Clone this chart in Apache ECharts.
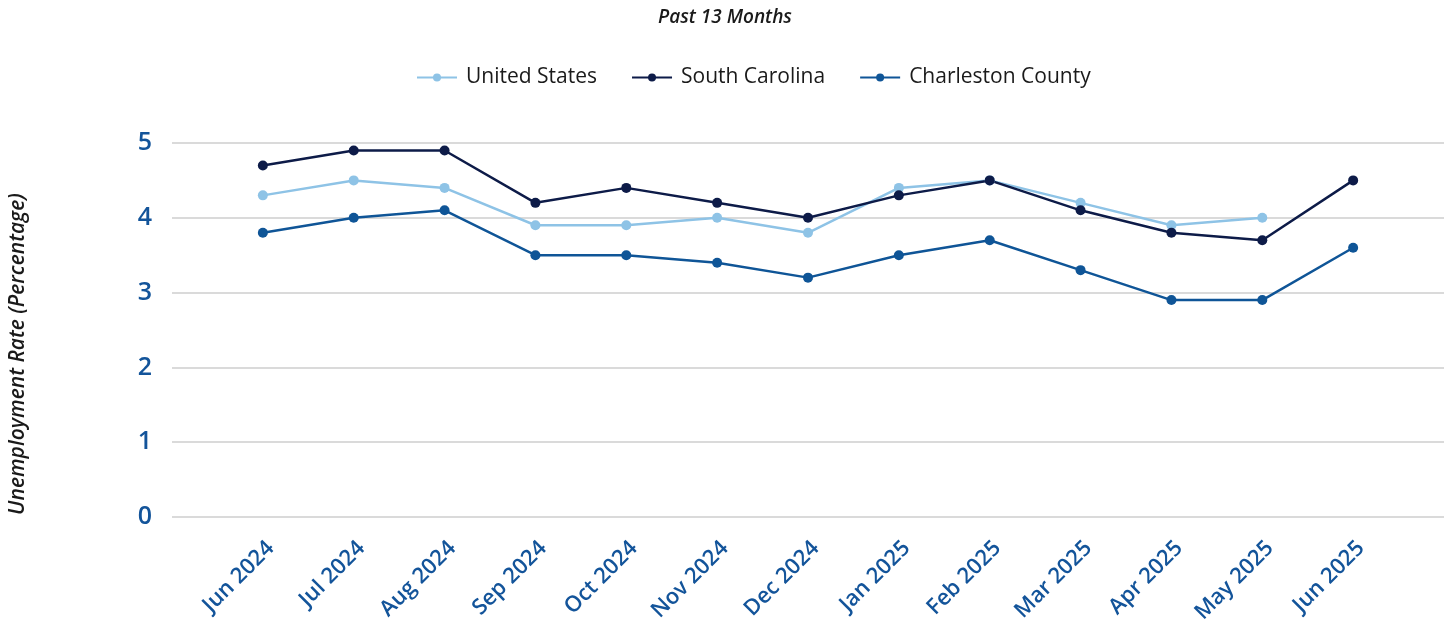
<!DOCTYPE html>
<html>
<head>
<meta charset="utf-8">
<script src="https://cdn.jsdelivr.net/npm/echarts@6/dist/echarts.min.js"></script>
<style>
html,body{margin:0;padding:0;background:#fff;}
#chart{width:1450px;height:643px;}
</style>
</head>
<body>
<div id="chart"></div>
<script>
const months = ['Jun 2024','Jul 2024','Aug 2024','Sep 2024','Oct 2024','Nov 2024','Dec 2024','Jan 2025','Feb 2025','Mar 2025','Apr 2025','May 2025','Jun 2025'];
const unitedStates = [4.3,4.5,4.4,3.9,3.9,4.0,3.8,4.4,4.5,4.2,3.9,4.0,null];
const southCarolina = [4.7,4.9,4.9,4.2,4.4,4.2,4.0,4.3,4.5,4.1,3.8,3.7,4.5];
const charlestonCounty = [3.8,4.0,4.1,3.5,3.5,3.4,3.2,3.5,3.7,3.3,2.9,2.9,3.6];
const yTicks = [0,1,2,3,4,5];

const FONT = '"Open Sans", "Noto Sans", sans-serif';
const LABEL_COLOR = '#13549a';
// pad one empty slot on each side so points sit one cell in from the grid edges
const cats = [''].concat(months, ['']);
const pad = arr => [null].concat(arr, [null]);

const chart = echarts.init(document.getElementById('chart'));
function mkSeries(name, data, color) {
  return {
    name, type: 'line', data: pad(data), color,
    symbol: 'circle', symbolSize: 10,
    lineStyle: {width: 2.5, color},
    itemStyle: {color},
    connectNulls: false,
    emphasis: {disabled: true}
  };
}
chart.setOption({
  animation: false,
  textStyle: {fontFamily: FONT},
  title: {
    text: 'Past 13 Months', left: 'center', top: 3,
    textStyle: {fontFamily: FONT, fontSize: 19, fontStyle: 'italic', fontWeight: 600, color: '#1a1a1a'}
  },
  legend: {
    top: 62, left: 411, itemGap: 34, itemWidth: 40, itemHeight: 10,
    textStyle: {fontFamily: FONT, fontSize: 21, fontWeight: 500, color: '#1a1a1a', padding: [0, 0, 0, 4]},
    data: ['United States','South Carolina','Charleston County']
  },
  grid: {left: 172, right: 6, top: 143, bottom: 126, containLabel: false},
  xAxis: {
    type: 'category', data: cats, boundaryGap: false,
    axisLine: {show: false}, axisTick: {show: false},
    axisLabel: {
      rotate: 45, interval: 0, margin: 20, verticalAlign: 'top', align: 'right',
      fontFamily: FONT, fontSize: 22, fontWeight: 600, color: LABEL_COLOR
    },
    splitLine: {show: false}
  },
  yAxis: {
    type: 'value', min: yTicks[0], max: yTicks[yTicks.length-1], interval: 1,
    name: 'Unemployment Rate (Percentage)', nameLocation: 'middle', nameRotate: 90, nameGap: 143,
    nameTextStyle: {fontFamily: FONT, fontSize: 21, fontStyle: 'italic', fontWeight: 600, color: '#1a1a1a', padding: [0, 48, 0, 0]},
    axisLine: {show: false}, axisTick: {show: false},
    axisLabel: {margin: 20, fontFamily: FONT, fontSize: 25, fontWeight: 600, color: LABEL_COLOR},
    splitLine: {lineStyle: {color: '#dadada', width: 2}}
  },
  series: [
    mkSeries('United States', unitedStates, '#8ec3e6'),
    mkSeries('South Carolina', southCarolina, '#0d1b48'),
    mkSeries('Charleston County', charlestonCounty, '#0f5597')
  ]
});
</script>
</body>
</html>
